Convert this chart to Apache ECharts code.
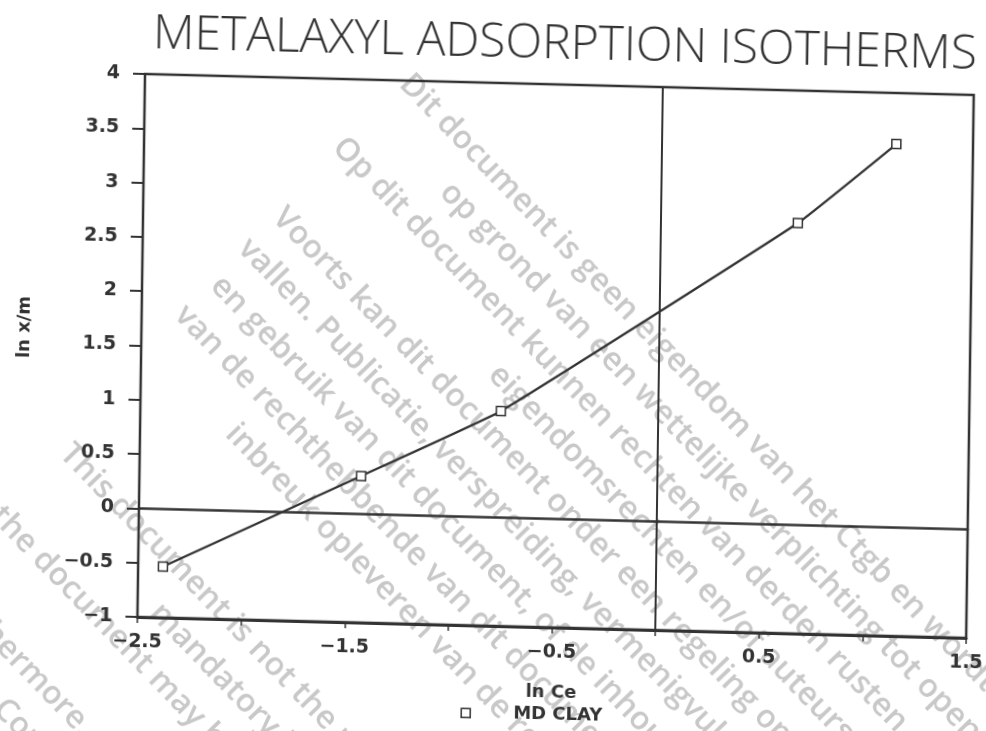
<!DOCTYPE html>
<html>
<head>
<meta charset="utf-8">
<title>Metalaxyl adsorption isotherms</title>
<script src="https://cdn.jsdelivr.net/npm/echarts@6/dist/echarts.min.js"></script>
<style>
  html, body { margin: 0; padding: 0; background: #fff; overflow: hidden; }
  body { width: 986px; height: 731px; position: relative; }
  /* the scan is slightly skewed, so the whole chart is tilted a little */
  #chart {
    position: absolute; left: -30px; top: -30px; width: 1046px; height: 791px;
    transform-origin: 175px 104px;
    transform: matrix(0.99968, 0.0253, -0.01396, 0.9999, 0, 0);
  }
</style>
</head>
<body>
<div id="chart"></div>
<script>
const lnCe = [-2.38, -1.43, -0.76, 0.66, 1.13];
const lnXm = [-0.53, 0.35, 0.98, 2.78, 3.53];
const xTickLabels = [-2.5, -1.5, -0.5, 0.5, 1.5];
const yTickLabels = [-1, -0.5, 0, 0.5, 1, 1.5, 2, 2.5, 3, 3.5, 4];
const seriesName = 'MD CLAY';
const chartTitle = 'METALAXYL ADSORPTION ISOTHERMS';
const xTitle = 'ln Ce';
const yTitle = 'ln x/m';

// disclaimer stamped over the scan
const watermarkLines = [
  'Dit document is geen eigendom van het Ctgb en wordt openbaar gemaakt',
  'op grond van een wettelijke verplichting tot openbaarmaking.',
  'Op dit document kunnen rechten van derden rusten, waaronder intellectuele',
  'eigendomsrechten en/of auteursrechten.',
  'Voorts kan dit document onder een regeling omtrent bescherming van gegevens',
  'vallen. Publicatie, verspreiding, vermenigvuldiging',
  'en gebruik van dit document, of de inhoud daarvan, zonder toestemming',
  'van de rechthebbende van dit document, kan een',
  'inbreuk opleveren van de rechten van de rechthebbende.',
  'This document is not the property of the Ctgb and is made public',
  'mandatory because of a legal obligation.',
  'the document may be subject to rights of third parties.',
  'Furthermore, the document may be subject to data protection rules.',
  'Consequently, any publication or use may be an infringement.'
];
// start of each watermark line: [along the text, across it], page pixels
const watermarkPlace = [
  [338, -236], [444, -190], [337, -144], [609, -98], [346, -52], [344, -6],
  [352, 40], [348, 86], [469, 132],
  [368, 265], [545, 311], [365, 358], [378, 445], [505, 490]
];
const WM_ANGLE = 46 * Math.PI / 180;

const PAD = 30;
const ORIGIN = [175, 104];
const SKEW = [0.99968, 0.0253, -0.01396, 0.9999];

// page point -> point inside the tilted chart div
function toLocal(sx, sy) {
  const [a, b, c, d] = SKEW;
  const det = a * d - b * c;
  const dx = sx + PAD - ORIGIN[0];
  const dy = sy + PAD - ORIGIN[1];
  return [ORIGIN[0] + (d * dx - c * dy) / det, ORIGIN[1] + (-b * dx + a * dy) / det];
}

const fmt = v => (v < 0 ? '\u2212' : '') + Math.abs(v);
const labelFont = { fontFamily: 'DejaVu Sans', fontWeight: 'bold', fontSize: 19, color: '#333' };
const X_RANGE = { min: -2.5, max: 1.5, interval: 0.5 };
const Y_RANGE = { min: -1, max: 4, interval: 0.5 };

const chart = echarts.init(document.getElementById('chart'), null, { renderer: 'canvas' });

// watermark direction inside the tilted div
const [a, b, c, d] = SKEW;
const det = a * d - b * c;
const ux = Math.cos(WM_ANGLE), uy = Math.sin(WM_ANGLE);
const wmRot = Math.atan2((-b * ux + a * uy) / det, (d * ux - c * uy) / det);

const watermark = watermarkLines.map((text, i) => {
  const [s, n] = watermarkPlace[i];
  const p = toLocal(s * ux - n * uy, s * uy + n * ux);
  return {
    type: 'text', z: -1, silent: true,
    x: p[0], y: p[1], rotation: -wmRot,
    style: {
      text, fill: '#c8c8c8', font: '600 32px "Open Sans"',
      textAlign: 'left', textVerticalAlign: 'middle'
    }
  };
});

const titlePos = toLocal(565, 45);
const yNamePos = toLocal(25, 327);
const legendPos = toLocal(465, 713);

// bare axes that only draw the x = 0 and y = 0 lines
const zeroAxis = width => ({
  type: 'value',
  axisLine: { show: true, onZero: true, onZeroAxisIndex: 0, lineStyle: { color: '#333', width } },
  axisTick: { show: false },
  axisLabel: { show: false },
  splitLine: { show: false }
});

chart.setOption({
  animation: false,
  backgroundColor: 'transparent',
  grid: {
    left: 175, top: 104, right: 42, bottom: 144,
    show: true, borderColor: '#333', borderWidth: 2.5
  },
  legend: {
    data: [seriesName],
    left: legendPos[0] - 4.5, top: legendPos[1] - 10,
    padding: 0,
    icon: 'rect', itemWidth: 9, itemHeight: 9,
    itemStyle: { color: '#fff', borderColor: '#333', borderWidth: 1.5 },
    textStyle: { ...labelFont, fontSize: 18, lineHeight: 20, padding: [0, 0, 0, 38] }
  },
  xAxis: [
    {
      type: 'value', ...X_RANGE, position: 'bottom',
      name: xTitle, nameLocation: 'middle', nameGap: 56,
      nameTextStyle: { ...labelFont, fontSize: 18 },
      axisLine: { onZero: false, lineStyle: { color: '#333', width: 3 } },
      axisTick: { show: true, length: 6, lineStyle: { color: '#333', width: 1.5 } },
      axisLabel: {
        ...labelFont, margin: 16,
        formatter: v => xTickLabels.some(t => Math.abs(t - v) < 1e-6) ? fmt(v) : ''
      },
      splitLine: { show: false }
    },
    { ...zeroAxis(2.5), ...X_RANGE, position: 'bottom' }
  ],
  yAxis: [
    {
      type: 'value', ...Y_RANGE, position: 'left',
      axisLine: { show: true, onZero: false, lineStyle: { color: '#333', width: 2 } },
      axisTick: { show: true, length: 12, lineStyle: { color: '#333', width: 2 } },
      axisLabel: {
        ...labelFont, margin: 25,
        formatter: v => yTickLabels.some(t => Math.abs(t - v) < 1e-6) ? fmt(v) : ''
      },
      splitLine: { show: false }
    },
    { ...zeroAxis(2), ...Y_RANGE, position: 'left' }
  ],
  graphic: [
    ...watermark,
    {
      type: 'text', x: titlePos[0], y: titlePos[1],
      style: {
        text: chartTitle, fill: '#333', font: '300 48px "Open Sans"',
        textAlign: 'center', textVerticalAlign: 'middle'
      }
    },
    {
      type: 'text', x: yNamePos[0], y: yNamePos[1], rotation: Math.PI / 2,
      style: {
        text: yTitle, fill: '#333', font: 'bold 18px "DejaVu Sans"',
        textAlign: 'center', textVerticalAlign: 'middle'
      }
    }
  ],
  series: [
    {
      name: seriesName,
      type: 'line',
      xAxisIndex: 0,
      yAxisIndex: 0,
      data: lnCe.map((x, i) => [x, lnXm[i]]),
      smooth: 0.1,
      symbol: 'rect',
      symbolSize: 9,
      itemStyle: { color: '#fff', borderColor: '#333', borderWidth: 1.5 },
      lineStyle: { color: '#333', width: 2.2 },
      z: 3
    }
  ]
});
</script>
</body>
</html>
